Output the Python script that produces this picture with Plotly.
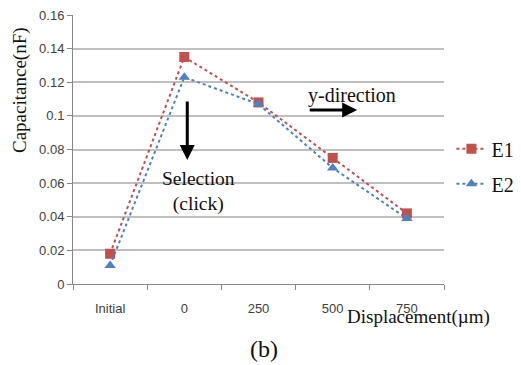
import plotly.graph_objects as go

categories = ["Initial", "0", "250", "500", "750"]
e1 = [0.018, 0.135, 0.108, 0.075, 0.042]
e2 = [0.011, 0.123, 0.107, 0.069, 0.039]
y_ticks = [0, 0.02, 0.04, 0.06, 0.08, 0.1, 0.12, 0.14, 0.16]
y_tick_labels = ["0", "0.02", "0.04", "0.06", "0.08", "0.1", "0.12", "0.14", "0.16"]

serif = "Liberation Serif, Times New Roman, serif"
sans = "Liberation Sans, Arial, sans-serif"

fig = go.Figure()
fig.add_trace(go.Scatter(x=categories, y=e1, name="E1", mode="lines+markers",
                         legendgroup="a",
                         line=dict(color="#c0504d", width=2, dash="dot"),
                         marker=dict(symbol="square", size=10, color="#c0504d")))
fig.add_trace(go.Scatter(x=categories, y=e2, name="E2", mode="lines+markers",
                         legendgroup="b",
                         line=dict(color="#4f81bd", width=2, dash="dot"),
                         marker=dict(symbol="triangle-up", size=10, color="#4f81bd")))

# page body has an 8px margin, so the figure is offset by 8px
fig.update_layout(
    width=513, height=357,
    margin=dict(l=65, r=77, t=7, b=81, autoexpand=False),
    paper_bgcolor="white", plot_bgcolor="white",
    showlegend=True,
    legend=dict(x=1.02, y=0.575, xanchor="left", yanchor="top",
                font=dict(family=serif, size=20, color="#111"),
                bgcolor="rgba(0,0,0,0)", traceorder="grouped", tracegroupgap=6,
                itemwidth=30),
    xaxis=dict(type="category", range=[-0.5, 4.5], showgrid=False,
               showline=True, linecolor="#888", linewidth=1,
               ticks="outside", tickcolor="#888", ticklen=5,
               tickson="boundaries", ticklabelstandoff=12, automargin=False,
               tickfont=dict(family=sans, size=13, color="#404040")),
    yaxis=dict(range=[0, 0.16], tickvals=y_ticks, ticktext=y_tick_labels,
               showgrid=True, gridcolor="#c0c0c0", gridwidth=1.5,
               showline=True, linecolor="#888", linewidth=1,
               ticks="outside", tickcolor="#888", ticklen=5,
               zeroline=False, automargin=False, ticklabeloverflow="allow",
               tickfont=dict(family=sans, size=13, color="#404040")),
    annotations=[
        dict(text="Capacitance(nF)", xref="paper", yref="paper", x=-0.143, y=0.721,
             xanchor="center", yanchor="middle", textangle=-90, showarrow=False,
             font=dict(family=serif, size=19, color="#111")),
        dict(text="Displacement(µm)", xref="paper", yref="paper", x=1.13, y=-0.075,
             xanchor="right", yanchor="top", showarrow=False,
             font=dict(family=serif, size=19, color="#111")),
        dict(text="(b)", xref="paper", yref="paper", x=0.515, y=-0.185,
             xanchor="center", yanchor="top", showarrow=False,
             font=dict(family=serif, size=24, color="#111")),
        dict(text="Selection<br>(click)", xref="x", yref="y", x=1.185, y=0.070,
             xanchor="center", yanchor="top", showarrow=False,
             font=dict(family=serif, size=19.5, color="#111")),
        dict(text="", xref="x", yref="y", x=1.04, y=0.0738, ax=1.04, ay=0.1094,
             axref="x", ayref="y", showarrow=True, arrowhead=2, arrowsize=1,
             arrowwidth=3, arrowcolor="black"),
        dict(text="y-direction", xref="x", yref="y", x=3.26, y=0.1124,
             xanchor="center", yanchor="middle", showarrow=False,
             font=dict(family=serif, size=20, color="#111")),
        dict(text="", xref="x", yref="y", x=3.33, y=0.1035, ax=2.67, ay=0.1035,
             axref="x", ayref="y", showarrow=True, arrowhead=2, arrowsize=1,
             arrowwidth=3, arrowcolor="black"),
    ],
)

fig.write_html("out.html")
